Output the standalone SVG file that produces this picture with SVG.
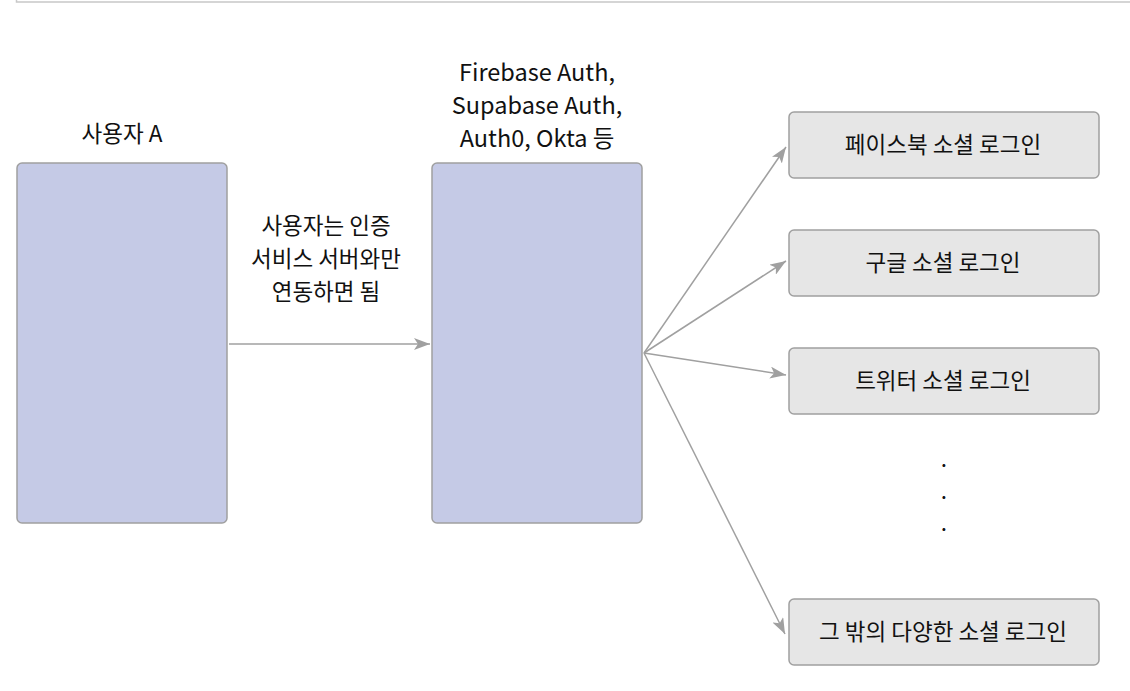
<svg xmlns="http://www.w3.org/2000/svg" width="1130" height="691" viewBox="0 0 1130 691">
<style>
text{font-family:"Noto Sans CJK KR","Noto Sans",sans-serif;fill:#111;text-anchor:middle;font-size:22.5px}
.lat{font-size:23.5px}
.big{fill:#c5cae6;stroke:#a0a0a0;stroke-width:1.5}
.opt{fill:#e6e6e6;stroke:#a0a0a0;stroke-width:1.5}
.con{stroke:#a0a0a0;stroke-width:1.5;fill:none}
</style>
<defs>
<marker id="ah" viewBox="0 0 16 12" refX="16" refY="6" markerWidth="16" markerHeight="12" markerUnits="userSpaceOnUse" orient="auto">
<path d="M0,0 L16,6 L0,12 L4,6 Z" fill="#a0a0a0"/>
</marker>
</defs>
<rect width="1130" height="691" fill="#fff"/>
<path d="M16.5,-5 V2 H1135" fill="none" stroke="#c8c8c8" stroke-width="1.5"/>
<g id="userA">
<rect class="big" x="17" y="163" width="210" height="360" rx="5"/>
<text x="122" y="142">사용자 A</text>
</g>
<g id="auth">
<rect class="big" x="432" y="163" width="210" height="360" rx="5"/>
<text class="lat" x="537" y="81">Firebase Auth,</text>
<text class="lat" x="537" y="114">Supabase Auth,</text>
<text class="lat" x="537" y="147">Auth0, Okta 등</text>
</g>
<g id="facebook">
<rect class="opt" x="789" y="112" width="310" height="66" rx="5"/>
<text x="943" y="153">페이스북 소셜 로그인</text>
</g>
<g id="google">
<rect class="opt" x="789" y="230" width="310" height="66" rx="5"/>
<text x="943" y="271">구글 소셜 로그인</text>
</g>
<g id="twitter">
<rect class="opt" x="789" y="348" width="310" height="66" rx="5"/>
<text x="943" y="389">트위터 소셜 로그인</text>
</g>
<g id="dots">
<text x="944" y="467">.</text>
<text x="944" y="499">.</text>
<text x="944" y="531">.</text>
</g>
<g id="others">
<rect class="opt" x="789" y="599" width="310" height="66" rx="5"/>
<text x="943" y="640">그 밖의 다양한 소셜 로그인</text>
</g>
<g id="connectors">
<path class="con" d="M229,344 H430" marker-end="url(#ah)"/>
<text x="326" y="234">사용자는 인증</text>
<text x="326" y="267">서비스 서버와만</text>
<text x="326" y="300">연동하면 됨</text>
<path class="con" d="M644,353 L786,147" marker-end="url(#ah)"/>
<path class="con" d="M644,353 L786,261" marker-end="url(#ah)"/>
<path class="con" d="M644,353 L786,375" marker-end="url(#ah)"/>
<path class="con" d="M644,353 L785,634" marker-end="url(#ah)"/>
</g>
</svg>
